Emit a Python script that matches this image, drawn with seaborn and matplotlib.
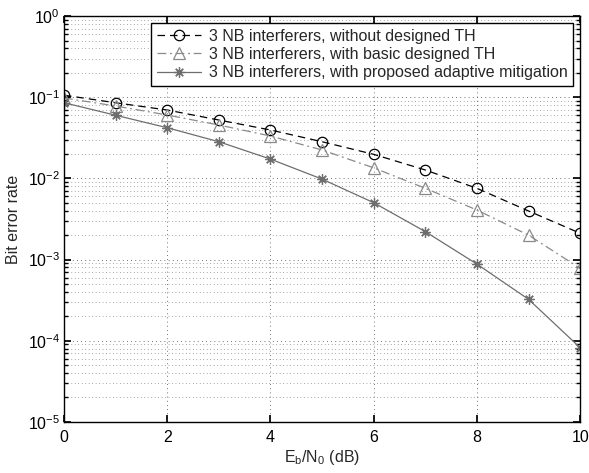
import numpy as np
import pandas as pd
import matplotlib
matplotlib.use("Agg")
import matplotlib.pyplot as plt
import seaborn as sns
from matplotlib.ticker import LogLocator, NullFormatter, MultipleLocator

# Eb/N0 values (dB)
ebn0 = [0, 1, 2, 3, 4, 5, 6, 7, 8, 9, 10]
# BER curves
ber_no_th = [0.106, 0.0855, 0.0696, 0.0524, 0.0395, 0.0283, 0.0198, 0.0127, 0.00755, 0.00397, 0.00211]
ber_basic_th = [0.098, 0.078, 0.0604, 0.0455, 0.0333, 0.0224, 0.0135, 0.00755, 0.00408, 0.0020, 0.00078]
ber_adaptive = [0.0856, 0.060, 0.0421, 0.0283, 0.0173, 0.0098, 0.00502, 0.00221, 0.00088, 0.000324, 0.000082]
labels = ["3 NB interferers, without designed TH",
          "3 NB interferers, with basic designed TH",
          "3 NB interferers, with proposed adaptive mitigation"]

sns.set_theme(style="ticks")
plt.rcParams['font.family'] = ['Liberation Sans', 'DejaVu Sans']
plt.rcParams['mathtext.fontset'] = 'custom'
plt.rcParams['mathtext.rm'] = 'Liberation Sans'
plt.rcParams['mathtext.it'] = 'Liberation Sans'
plt.rcParams['mathtext.default'] = 'regular'

fig = plt.figure(figsize=(5.89, 4.73), dpi=100)
ax = fig.add_axes([0.1087, 0.108, 0.8763, 0.858])

styles = [
    dict(color="black", linestyle=(0, (6, 4)), marker="o", ms=7.5),
    dict(color="#8a8a8a", linestyle=(0, (7, 3, 1.5, 3)), marker="^", ms=8),
    dict(color="#6e6e6e", linestyle="-", marker=(8, 2, 0), ms=7.5),
]
for vals, lab, st in zip([ber_no_th, ber_basic_th, ber_adaptive], labels, styles):
    df = pd.DataFrame({"x": ebn0, "y": vals})
    sns.lineplot(data=df, x="x", y="y", ax=ax, label=lab, color=st["color"],
                 linestyle=st["linestyle"], linewidth=0.9, marker=st["marker"],
                 markersize=st["ms"], markerfacecolor="none",
                 markeredgecolor=st["color"], markeredgewidth=0.9)

ax.set_yscale("log")
ax.set_xlim(0, 10)
ax.set_ylim(1e-5, 1)
ax.xaxis.set_major_locator(MultipleLocator(2))
ax.yaxis.set_major_locator(LogLocator(base=10, numticks=10))
ax.yaxis.set_minor_locator(LogLocator(base=10, subs=np.arange(2, 10), numticks=20))
ax.yaxis.set_minor_formatter(NullFormatter())

ax.grid(True, which="major", axis="both", linestyle=(0, (1, 4)), color="#444444", linewidth=0.6)
ax.grid(True, which="minor", axis="y", linestyle=(0, (1, 4)), color="#555555", linewidth=0.5)

ax.tick_params(which="both", direction="in", top=True, right=True, labelsize=11.5, colors="black")
ax.tick_params(which="major", length=5)
ax.tick_params(which="minor", length=3)
ax.tick_params(axis="x", pad=6)
ax.tick_params(axis="y", pad=3)
for s in ax.spines.values():
    s.set_color("black")
    s.set_linewidth(1.0)

ax.set_xlabel(r"E$_b$/N$_0$ (dB)", fontsize=11.5, labelpad=2)
ax.set_ylabel("Bit error rate", fontsize=11.5)
ax.yaxis.set_label_coords(-0.083, 0.5)

leg = ax.legend(loc="upper right", fontsize=11.5, handlelength=2.8, frameon=True,
                fancybox=False, edgecolor="black", framealpha=1,
                borderpad=0.35, labelspacing=0.2, handletextpad=0.45,
                borderaxespad=0.45)
leg.get_frame().set_linewidth(1.0)

fig.savefig("out.png", dpi=100)
